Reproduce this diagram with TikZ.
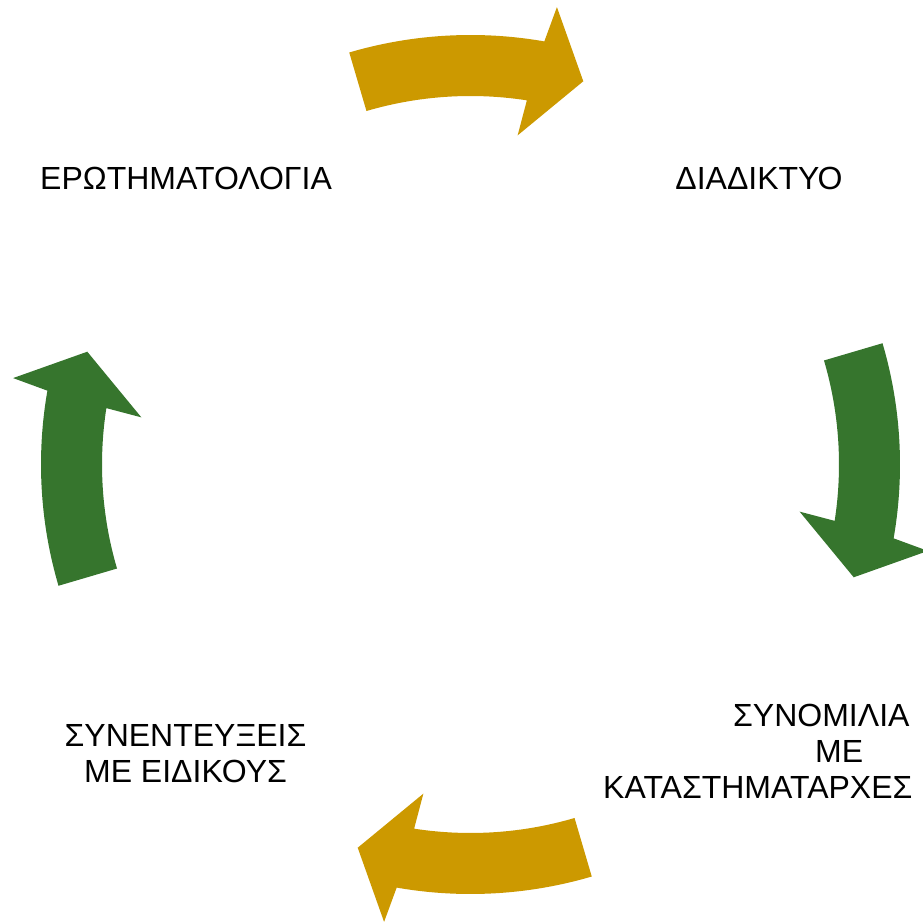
\documentclass[tikz,border=0pt]{standalone}
\usepackage{fontspec}
\setmainfont{Liberation Sans}
\definecolor{arrowgold}{RGB}{204,153,0}
\definecolor{arrowgreen}{RGB}{54,117,45}
\tikzset{
  cyclearrow/.pic={
    \fill[pic actions] (106.4:429.5pt) arc[start angle=106.4, end angle=80.1, radius=429.5pt]
      -- (79.3:465.5pt) -- (73.6:399.5pt) -- (81.85:332.5pt) -- (81.2:368.5pt)
      arc[start angle=81.2, end angle=106.4, radius=368.5pt] -- cycle;
  },
  txt/.style={inner sep=0pt, anchor=base, font=\fontsize{32}{36}\selectfont}
}
\begin{document}
\begin{tikzpicture}[x=1pt,y=1pt]
\useasboundingbox (0,0) rectangle (923,922);
\clip (0,0) rectangle (923,922);
\coordinate (C) at (470.5,457.5);
\pic[fill=arrowgold] at (C) {cyclearrow};
\pic[fill=arrowgreen, rotate=-90] at (C) {cyclearrow};
\pic[fill=arrowgold, rotate=180] at (C) {cyclearrow};
\pic[fill=arrowgreen, rotate=90] at (C) {cyclearrow};
\node[txt] (q) at (186,732) {ΕΡΩΤΗΜΑΤΟΛΟΓΙΑ};
\node[txt] (d) at (759,732) {ΔΙΑΔΙΚΤΥΟ};
\node[txt] (s) at (185.5,176) {\begin{tabular}[t]{@{}c@{}}ΣΥΝΕΝΤΕΥΞΕΙΣ\\ΜΕ ΕΙΔΙΚΟΥΣ\end{tabular}};
\node[txt, anchor=base west] (k) at (603,195.3) {\begin{tabular}[t]{@{}l@{}}\hspace*{130pt}ΣΥΝΟΜΙΛΙΑ\\\hspace*{212pt}ΜΕ\\ΚΑΤΑΣΤΗΜΑΤΑΡΧΕΣ\end{tabular}};
\end{tikzpicture}
\end{document}
